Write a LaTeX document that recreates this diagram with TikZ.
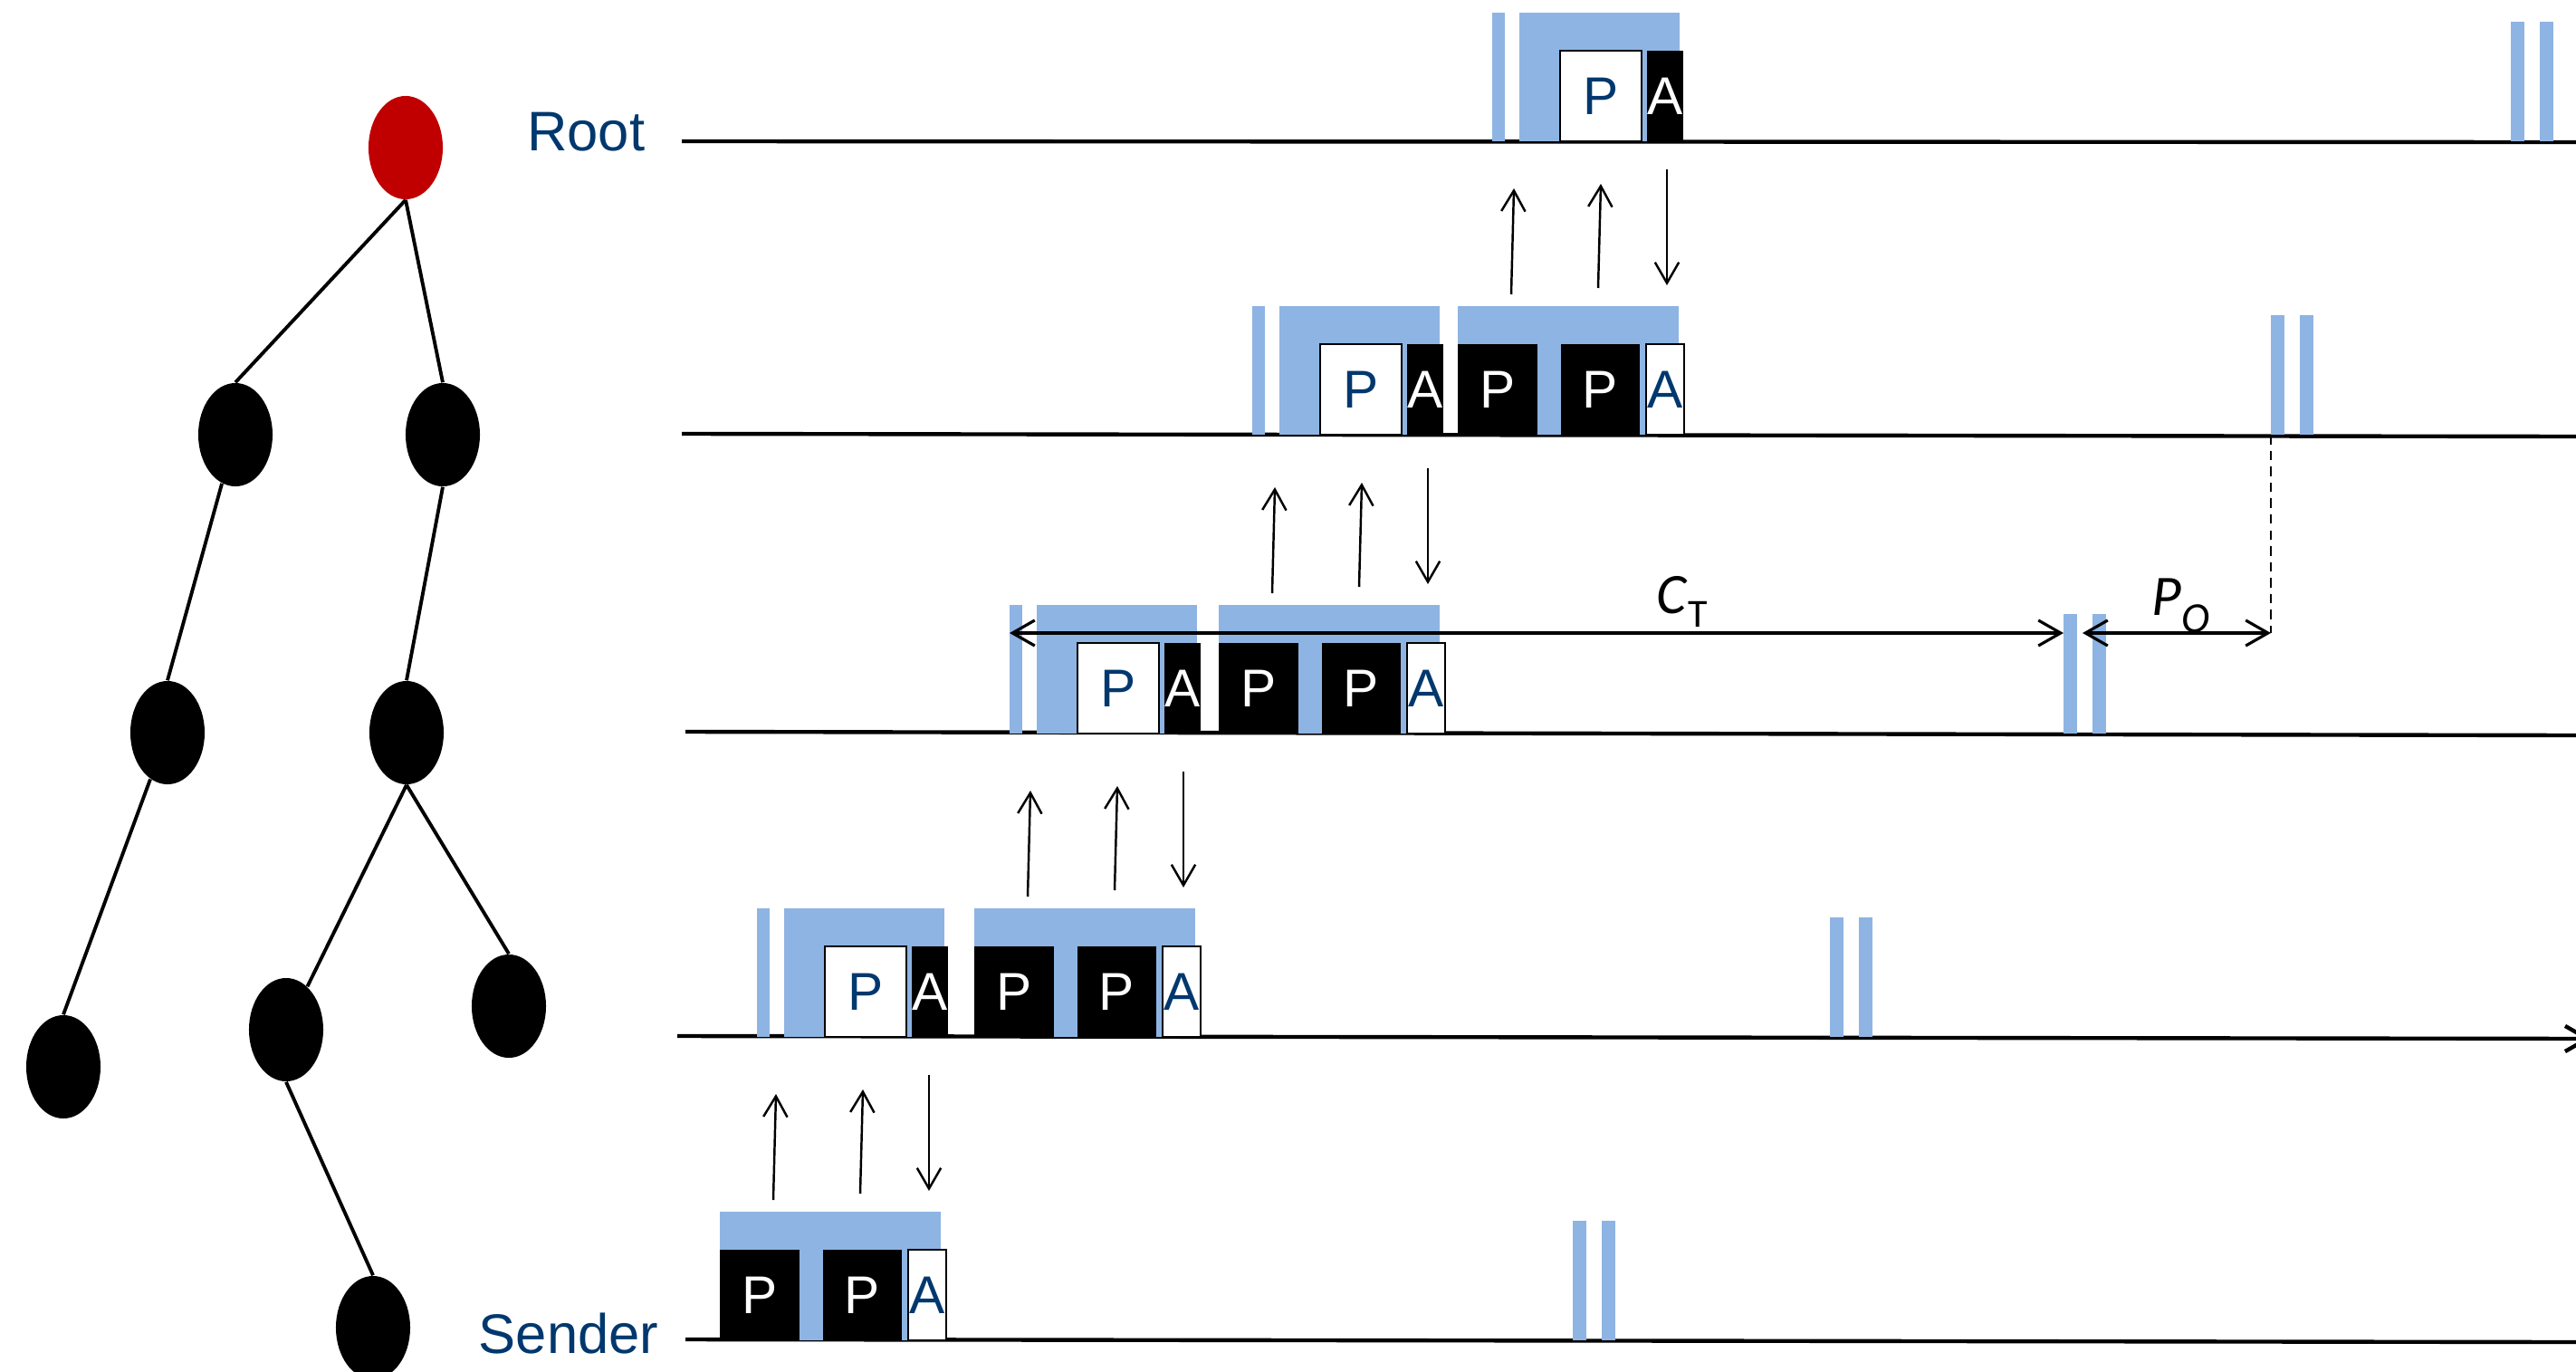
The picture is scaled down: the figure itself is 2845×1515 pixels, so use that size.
\documentclass[tikz,border=0pt]{standalone}
\usepackage{fontspec}
\setmainfont{Liberation Sans}
\newfontfamily\calfont{Carlito}
\usepackage{tikz}
\usetikzlibrary{arrows.meta}
\usetikzlibrary{shapes.geometric}

\definecolor{barblue}{RGB}{142,180,227}
\definecolor{rootred}{RGB}{192,0,0}
\definecolor{labelblue}{RGB}{0,56,110}

\tikzset{
	tnode/.style={ellipse, fill=black, inner sep=0pt, minimum width=0.82cm, minimum height=1.14cm},
	tedge/.style={line width=1.1pt},
	timeline/.style={line width=1.25pt},
	band/.style={fill=barblue, inner sep=0pt, outer sep=0pt, minimum height=1.42cm, anchor=south west},
	slot/.style={fill=barblue, inner sep=0pt, outer sep=0pt, minimum width=0.15cm, minimum height=1.32cm, anchor=south west},
	wbox/.style={draw=black, line width=0.8pt, fill=white, text=labelblue, inner sep=0pt, outer sep=0pt, minimum height=1cm, anchor=south west, font=\fontsize{16.7}{18}\selectfont},
	kbox/.style={fill=black, text=white, inner sep=0pt, outer sep=0pt, minimum height=1cm, anchor=south west, font=\fontsize{16.7}{18}\selectfont},
	msg/.style={line width=0.7pt, -{Straight Barb[length=6.5pt,width=7.5pt]}},
	dimarrow/.style={line width=0.9pt, {Straight Barb[length=7pt,width=8pt]}-{Straight Barb[length=7pt,width=8pt]}},
	rowlabel/.style={text=labelblue, inner sep=0pt, font=\fontsize{17.5}{20}\selectfont}
}

\begin{document}
\begin{tikzpicture}[x=0.01cm, y=-0.01cm]
				\useasboundingbox (0,0) rectangle (2845,1515);

				%Tree
				\node[tnode, fill=rootred] (troot) at (448,163) {};
				\node[tnode] (ta) at (260,480) {};
				\node[tnode] (tb) at (489,480) {};
				\node[tnode] (tc) at (185,809) {};
				\node[tnode] (td) at (449,809) {};
				\node[tnode] (te) at (70,1178) {};
				\node[tnode] (tf) at (316,1137) {};
				\node[tnode] (tg) at (562,1111) {};
				\node[tnode] (th) at (412,1466) {};

				\draw[tedge] (troot.south) -- (ta.north);
				\draw[tedge] (troot.south) -- (tb.north);
				\draw[tedge] (ta) -- (tc.north);
				\draw[tedge] (tb.south) -- (td.north);
				\draw[tedge] (tc) -- (te.north);
				\draw[tedge] (td.south) -- (tf);
				\draw[tedge] (td.south) -- (tg.north);
				\draw[tedge] (tf.south) -- (th.north);

				\node[rowlabel, anchor=base east] (rootlabel) at (713,166) {Root};
				\node[rowlabel, anchor=base east] (senderlabel) at (728,1494) {Sender};

				%Time lines
				\coordinate (root-s) at (753,156);    \coordinate (root-e) at (2845,157);
				\coordinate (htwo-s) at (753,479);    \coordinate (htwo-e) at (2845,482);
				\coordinate (hthree-s) at (757,808);  \coordinate (hthree-e) at (2845,812);
				\coordinate (hfour-s) at (748,1144);  \coordinate (hfour-e) at (2862,1147);
				\coordinate (sender-s) at (757,1479); \coordinate (sender-e) at (2845,1482);

				\draw[timeline] (root-s) -- (root-e);
				\draw[timeline] (htwo-s) -- (htwo-e);
				\draw[timeline] (hthree-s) -- (hthree-e);
				\draw[timeline, -{Straight Barb[length=7pt,width=8pt]}] (hfour-s) -- (hfour-e);
				\draw[timeline] (sender-s) -- (sender-e);

				%First block: own packet and ack
				\foreach \row/\L/\bone in {root/156/1678, htwo/480/1413, hthree/810/1145, hfour/1145/866} {
					\node[band, minimum width=0.14cm] (\row-thin) at (\bone-30,\L) {};
					\node[band, minimum width=1.77cm] (\row-b1) at (\bone,\L) {};
					\node[wbox, minimum width=0.90cm] (\row-p1) at (\bone+45,\L) {P};
					\node[kbox, minimum width=0.40cm] (\row-a1) at (\bone+141,\L) {A};
				}

				%Second block: relayed packets and ack
				\foreach \row/\L/\btwo in {htwo/480/1610, hthree/810/1346, hfour/1145/1076, sender/1480/795} {
					\node[band, minimum width=2.44cm] (\row-b2) at (\btwo,\L) {};
					\node[kbox, minimum width=0.88cm] (\row-p2) at (\btwo,\L) {P};
					\node[kbox, minimum width=0.87cm] (\row-p3) at (\btwo+114,\L) {P};
					\node[wbox, minimum width=0.42cm] (\row-a2) at (\btwo+208,\L) {A};
				}

				%Next slots
				\foreach \row/\L/\d in {root/156/2773, htwo/480/2508, hthree/810/2279, hfour/1145/2021, sender/1480/1737} {
					\node[slot] (\row-d1) at (\d,\L) {};
					\node[slot] (\row-d2) at (\d+32,\L) {};
				}

				%Messages between hops
				\foreach \btwo/\L in {795/1480, 1076/1145, 1346/810, 1610/480} {
					\coordinate (up1s-\L) at (\btwo+59,\L-155);  \coordinate (up1e-\L) at (\btwo+62,\L-272);
					\coordinate (up2s-\L) at (\btwo+155,\L-162); \coordinate (up2e-\L) at (\btwo+158,\L-277);
					\coordinate (dns-\L) at (\btwo+231,\L-293);  \coordinate (dne-\L) at (\btwo+231,\L-165);
					\draw[msg] (up1s-\L) -- (up1e-\L);
					\draw[msg] (up2s-\L) -- (up2e-\L);
					\draw[msg] (dns-\L) -- (dne-\L);
				}

				%Periods
				\coordinate (dimy) at (0,699);
				\draw[dimarrow] (hthree-thin.west |- dimy) -- (hthree-d1.west |- dimy);
				\draw[dimarrow] ([xshift=0.06cm]hthree-d1.east |- dimy) -- (htwo-d1.west |- dimy);
				\draw[line width=0.6pt, dash pattern=on 3pt off 2pt] (htwo-d1.south west) -- (htwo-d1.west |- dimy);

				\node[anchor=base west, inner sep=0pt, font=\calfont\fontsize{18}{20}\selectfont] (ctlabel) at (1829,677) {\textit{C}\raisebox{-4.5pt}{\fontsize{12.5}{12}\selectfont T}};
				\node[anchor=base west, inner sep=0pt, font=\calfont\fontsize{18}{20}\selectfont] (polabel) at (2376,679) {\textit{P}\raisebox{-5.5pt}{\fontsize{13.5}{13}\selectfont\textit{O}}};

			\end{tikzpicture}
\end{document}
